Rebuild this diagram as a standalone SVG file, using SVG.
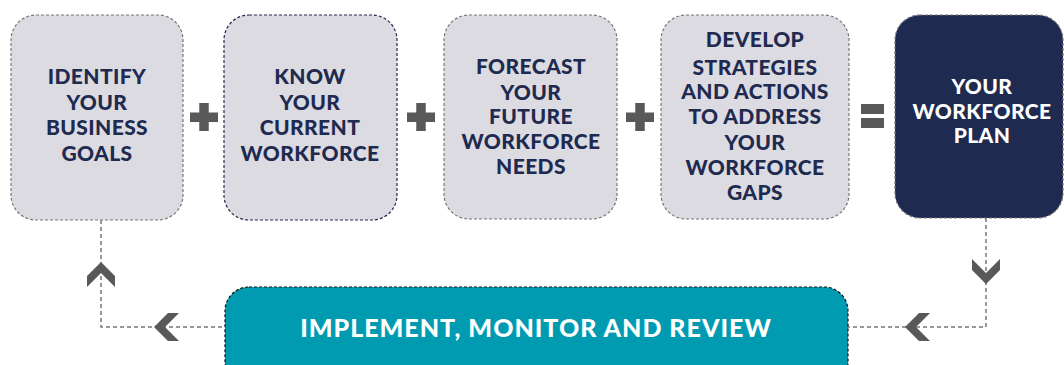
<svg xmlns="http://www.w3.org/2000/svg" width="1064" height="365" viewBox="0 0 1064 365">
<style>
.box{fill:#dcdbe1;stroke:#777;stroke-width:1.2;stroke-dasharray:3 2}
.boxn{fill:#dcdbe1;stroke:#1e2a4f;stroke-width:1.2;stroke-dasharray:3 2}
.dark{fill:#1e2a4f;stroke:#777;stroke-width:1.2;stroke-dasharray:3 2}
.teal{fill:#009bb0;stroke:#111;stroke-width:1.2;stroke-dasharray:3 2}
.t{font-family:Lato,"Liberation Sans",sans-serif;font-weight:900;font-size:21px;letter-spacing:0.4px;fill:#1e2a4f;text-anchor:middle}
.w{fill:#ffffff}
.big{font-size:25px;letter-spacing:1px}
.op{fill:#595959}
.ln{fill:none;stroke:#777;stroke-width:1.5;stroke-dasharray:4 3}
</style>
<defs>
<path id="chev" d="M0,-12 L14,2 L14,13 L0,-1 L-14,13 L-14,2 Z" fill="#595959"/>
</defs>
<g id="connectors">
<path class="ln" d="M101,220 V327 H225"/>
<path class="ln" d="M986,218 V327 H848"/>
<use href="#chev" transform="translate(101,274)"/>
<use href="#chev" transform="translate(166,327) rotate(-90)"/>
<use href="#chev" transform="translate(986,272) rotate(180)"/>
<use href="#chev" transform="translate(917,327) rotate(-90)"/>
</g>
<g id="op-plus1" class="op"><rect x="190" y="112.5" width="28" height="9.5"/><rect x="199.25" y="103" width="9.5" height="28"/></g>
<g id="op-plus2" class="op"><rect x="407" y="112.5" width="28" height="9.5"/><rect x="416.25" y="103" width="9.5" height="28"/></g>
<g id="op-plus3" class="op"><rect x="626" y="112.5" width="28" height="9.5"/><rect x="635.25" y="103" width="9.5" height="28"/></g>
<g id="op-equals" class="op"><rect x="861" y="104" width="23" height="10"/><rect x="861" y="118" width="23" height="10"/></g>
<g id="node1">
<rect class="box" x="11" y="15" width="172" height="205" rx="25"/>
<text class="t"><tspan x="97" y="84">IDENTIFY</tspan><tspan x="97" y="110">YOUR</tspan><tspan x="97" y="135">BUSINESS</tspan><tspan x="97" y="161">GOALS</tspan></text>
</g>
<g id="node2">
<rect class="boxn" x="224" y="15" width="173" height="205" rx="25"/>
<text class="t"><tspan x="310" y="84">KNOW</tspan><tspan x="310" y="110">YOUR</tspan><tspan x="310" y="135">CURRENT</tspan><tspan x="310" y="161">WORKFORCE</tspan></text>
</g>
<g id="node3">
<rect class="box" x="444" y="15" width="173" height="204" rx="25"/>
<text class="t"><tspan x="531" y="74">FORECAST</tspan><tspan x="531" y="100">YOUR</tspan><tspan x="531" y="124">FUTURE</tspan><tspan x="531" y="149">WORKFORCE</tspan><tspan x="531" y="174">NEEDS</tspan></text>
</g>
<g id="node4">
<rect class="box" x="661" y="15" width="188" height="204" rx="25"/>
<text class="t"><tspan x="755" y="47">DEVELOP</tspan><tspan x="755" y="75">STRATEGIES</tspan><tspan x="755" y="99">AND ACTIONS</tspan><tspan x="755" y="124">TO ADDRESS</tspan><tspan x="755" y="150">YOUR</tspan><tspan x="755" y="175">WORKFORCE</tspan><tspan x="755" y="200">GAPS</tspan></text>
</g>
<g id="node5">
<rect class="dark" x="895" y="15" width="168" height="203" rx="25"/>
<text class="t w"><tspan x="982" y="94">YOUR</tspan><tspan x="982" y="119">WORKFORCE</tspan><tspan x="982" y="143">PLAN</tspan></text>
</g>
<g id="node6">
<rect class="teal" x="225" y="287" width="623" height="100" rx="24"/>
<text class="t w big" x="536" y="337">IMPLEMENT, MONITOR AND REVIEW</text>
</g>
</svg>
